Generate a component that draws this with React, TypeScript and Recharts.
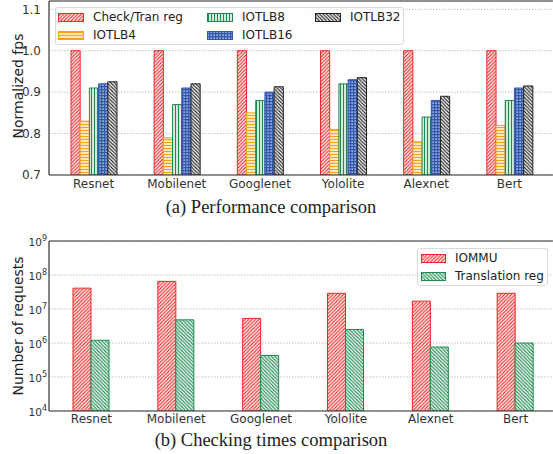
import React from "react";
import { BarChart, Bar, XAxis, YAxis, CartesianGrid, Legend, ReferenceLine } from "recharts";

// categories + values
const categories = ["Resnet", "Mobilenet", "Googlenet", "Yololite", "Alexnet", "Bert"];

const checkTran = [1.0, 1.0, 1.0, 1.0, 1.0, 1.0];
const iotlb4 = [0.83, 0.79, 0.85, 0.81, 0.78, 0.82];
const iotlb8 = [0.91, 0.87, 0.88, 0.92, 0.84, 0.88];
const iotlb16 = [0.92, 0.91, 0.9, 0.93, 0.88, 0.91];
const iotlb32 = [0.925, 0.92, 0.913, 0.935, 0.89, 0.915];

const iommu = [4.1e7, 6.5e7, 5.3e6, 2.9e7, 1.7e7, 2.9e7];
const translationReg = [1.2e6, 4.8e6, 4.3e5, 2.5e6, 7.6e5, 1.0e6];

const perfTicks = [0.7, 0.8, 0.9, 1.0, 1.1];
const reqTicks = [1e4, 1e5, 1e6, 1e7, 1e8, 1e9];

const RED = "#f02828";
const ORANGE = "#f7a21b";
const GREEN = "#1f8a4f";
const BLUE = "#3358b0";
const BLACK = "#222222";
const AXIS = "#333333";
const FONT = "'DejaVu Sans', sans-serif";

const perfData = categories.map((name, i) => ({
  name,
  checkTran: checkTran[i],
  iotlb4: iotlb4[i],
  iotlb8: iotlb8[i],
  iotlb16: iotlb16[i],
  iotlb32: iotlb32[i],
}));

const reqData = categories.map((name, i) => ({
  name,
  iommu: iommu[i],
  translationReg: translationReg[i],
}));

const perfSeries = [
  { key: "checkTran", name: "Check/Tran reg", color: RED, fill: "url(#hRedFwd)" },
  { key: "iotlb4", name: "IOTLB4", color: ORANGE, fill: "url(#hOrangeH)" },
  { key: "iotlb8", name: "IOTLB8", color: GREEN, fill: "url(#hGreenV)" },
  { key: "iotlb16", name: "IOTLB16", color: BLUE, fill: "url(#hBlueX)" },
  { key: "iotlb32", name: "IOTLB32", color: BLACK, fill: "url(#hBlackBack)" },
];

const reqSeries = [
  { key: "iommu", name: "IOMMU", color: RED, fill: "url(#hRedFwd)" },
  { key: "translationReg", name: "Translation reg", color: GREEN, fill: "url(#hGreenBack)" },
];

function Patterns() {
  return (
    <svg width={0} height={0} style={{ position: "absolute" }}>
      <defs>
        <pattern id="hRedFwd" width="3.5" height="3.5" patternUnits="userSpaceOnUse">
          <rect width="3.5" height="3.5" fill="#fff" />
          <path d="M-1,1 l2,-2 M0,3.5 l3.5,-3.5 M2.5,4.5 l2,-2" stroke={RED} strokeWidth="1.1" />
        </pattern>
        <pattern id="hOrangeH" width="4" height="3" patternUnits="userSpaceOnUse">
          <rect width="4" height="3" fill="#fff3dc" />
          <path d="M0,1.5 h4" stroke={ORANGE} strokeWidth="1.3" />
        </pattern>
        <pattern id="hGreenV" width="3" height="4" patternUnits="userSpaceOnUse">
          <rect width="3" height="4" fill="#e8f4ec" />
          <path d="M1.5,0 v4" stroke={GREEN} strokeWidth="1.2" />
        </pattern>
        <pattern id="hBlueX" width="3" height="3" patternUnits="userSpaceOnUse">
          <rect width="3" height="3" fill={BLUE} />
          <rect x="0.5" y="0.5" width="1.2" height="1.2" fill="#fff" />
        </pattern>
        <pattern id="hBlackBack" width="3.5" height="3.5" patternUnits="userSpaceOnUse">
          <rect width="3.5" height="3.5" fill="#fff" />
          <path d="M-1,2.5 l2,2 M0,0 l3.5,3.5 M2.5,-1 l2,2" stroke={BLACK} strokeWidth="1.1" />
        </pattern>
        <pattern id="hGreenBack" width="3.5" height="3.5" patternUnits="userSpaceOnUse">
          <rect width="3.5" height="3.5" fill="#fff" />
          <path d="M-1,2.5 l2,2 M0,0 l3.5,3.5 M2.5,-1 l2,2" stroke={GREEN} strokeWidth="1.1" />
        </pattern>
      </defs>
    </svg>
  );
}

type Series = { key: string; name: string; color: string; fill: string };

function LegendBox({ items, width, rows, colX, textX, swatchW }: {
  items: Series[]; width: number; rows: number; colX: number[]; textX: number[]; swatchW: number;
}) {
  return (
    <div
      style={{
        position: "relative",
        width,
        height: 38,
        boxSizing: "border-box",
        border: "1px solid #dadada",
        borderRadius: 3,
        background: "rgba(255,255,255,0.85)",
        fontFamily: FONT,
        fontSize: 12,
        color: "#222",
      }}
    >
      {items.map((s, i) => {
        const col = Math.floor(i / rows);
        const row = i % rows;
        const top = (row === 0 ? 9 : 27) - 10;
        return (
          <React.Fragment key={s.key}>
            <svg width={swatchW} height={9} style={{ position: "absolute", left: colX[col] - 1, top: top + 5.5 }}>
              <rect x={0.5} y={0.5} width={swatchW - 1} height={8} fill={s.fill} stroke={s.color} strokeWidth={1} />
            </svg>
            <span style={{ position: "absolute", left: textX[col] - 1, top: top + 2, lineHeight: "16px", whiteSpace: "nowrap" }}>
              {s.name}
            </span>
          </React.Fragment>
        );
      })}
    </div>
  );
}

function YLabel({ viewBox, text, shift = 0 }: any) {
  const cy = viewBox.y + viewBox.height / 2 + shift;
  return (
    <text
      transform={`translate(17.5,${cy}) rotate(-90)`}
      textAnchor="middle"
      dominantBaseline="central"
      fill="#222"
      fontSize={14}
      fontFamily={FONT}
    >
      {text}
    </text>
  );
}

function PowTick({ x, y, payload }: any) {
  const exp = Math.round(Math.log10(payload.value));
  return (
    <text x={x} y={y + 4.5} textAnchor="end" fill={AXIS} fontSize={10.5} fontFamily={FONT}>
      <tspan>10</tspan>
      <tspan dy={-5} fontSize={8}>{exp}</tspan>
    </text>
  );
}

const titleStyle: React.CSSProperties = {
  position: "absolute",
  left: 0,
  width: 542,
  textAlign: "center",
  fontFamily: "'Liberation Serif', 'Times New Roman', serif",
  fontSize: 18.5,
  color: "#222",
  lineHeight: "22px",
};

export default function App() {
  return (
    <div style={{ position: "absolute", left: 0, top: 0, width: 553, height: 454, overflow: "hidden", background: "#fff" }}>
      <Patterns />

      <div style={{ position: "absolute", left: 0, top: 0 }}>
        <BarChart width={560} height={199} data={perfData} margin={{ top: 1, right: 5, left: 0, bottom: 0 }} barGap={0}>
          <CartesianGrid vertical={false} stroke="#c4c4c4" strokeDasharray="1.5 1.5" />
          <XAxis
            dataKey="name"
            interval={0}
            height={24}
            padding={{ left: 3, right: 4 }}
            tickLine={false}
            tickSize={0}
            tickMargin={4}
            axisLine={{ stroke: AXIS, strokeWidth: 1.2 }}
            tick={{ fill: AXIS, fontSize: 12, fontFamily: FONT }}
          />
          <YAxis
            type="number"
            domain={[0.7, 1.12]}
            ticks={perfTicks}
            allowDataOverflow
            width={49}
            tickLine={false}
            tickSize={0}
            tickMargin={8}
            tickFormatter={(v: number) => v.toFixed(1)}
            axisLine={{ stroke: AXIS, strokeWidth: 1.2 }}
            tick={{ fill: AXIS, fontSize: 12, fontFamily: FONT }}
            label={{ content: (p: any) => <YLabel {...p} shift={-2} text="Normalized fps" /> }}
          />
          <ReferenceLine y={1.12} stroke={AXIS} strokeWidth={1.2} />
          {perfSeries.map((s) => (
            <Bar
              key={s.key}
              dataKey={s.key}
              name={s.name}
              fill={s.fill}
              stroke={s.color}
              strokeWidth={1}
              barSize={9.2}
              isAnimationActive={false}
            />
          ))}
          <Legend
            layout="horizontal"
            verticalAlign="middle"
            align="center"
            wrapperStyle={{ left: 55, top: 7, width: "auto", height: "auto" }}
            content={() => (
              <LegendBox items={perfSeries} width={349} rows={2} colX={[3, 152, 260]} textX={[38, 187, 295]} swatchW={26} />
            )}
          />
        </BarChart>
      </div>

      <div style={{ ...titleStyle, top: 196 }}>(a) Performance comparison</div>

      <div style={{ position: "absolute", left: 0, top: 225 }}>
        <BarChart width={560} height={206} data={reqData} margin={{ top: 16, right: 2, left: 0, bottom: 0 }} barGap={0}>
          <CartesianGrid vertical={false} stroke="#c4c4c4" strokeDasharray="1.5 1.5" />
          <XAxis
            dataKey="name"
            interval={0}
            height={20}
            tickLine={false}
            tickSize={0}
            tickMargin={3}
            axisLine={{ stroke: AXIS, strokeWidth: 1.2 }}
            tick={{ fill: AXIS, fontSize: 12, fontFamily: FONT }}
          />
          <YAxis
            type="number"
            scale="log"
            domain={[1e4, 1e9]}
            ticks={reqTicks}
            allowDataOverflow
            width={49}
            tickLine={false}
            tickSize={0}
            tickMargin={2}
            axisLine={{ stroke: AXIS, strokeWidth: 1.2 }}
            tick={<PowTick />}
            label={{ content: (p: any) => <YLabel {...p} text="Number of requests" /> }}
          />
          <ReferenceLine y={1e9} stroke={AXIS} strokeWidth={1.2} />
          {reqSeries.map((s) => (
            <Bar
              key={s.key}
              dataKey={s.key}
              name={s.name}
              fill={s.fill}
              stroke={s.color}
              strokeWidth={1}
              barSize={18}
              isAnimationActive={false}
            />
          ))}
          <Legend
            layout="horizontal"
            verticalAlign="middle"
            align="center"
            wrapperStyle={{ left: 417, top: 23, width: "auto", height: "auto" }}
            content={() => (
              <LegendBox items={reqSeries} width={131} rows={2} colX={[4]} textX={[38]} swatchW={25} />
            )}
          />
        </BarChart>
      </div>

      <div style={{ ...titleStyle, top: 429 }}>(b) Checking times comparison</div>
    </div>
  );
}
